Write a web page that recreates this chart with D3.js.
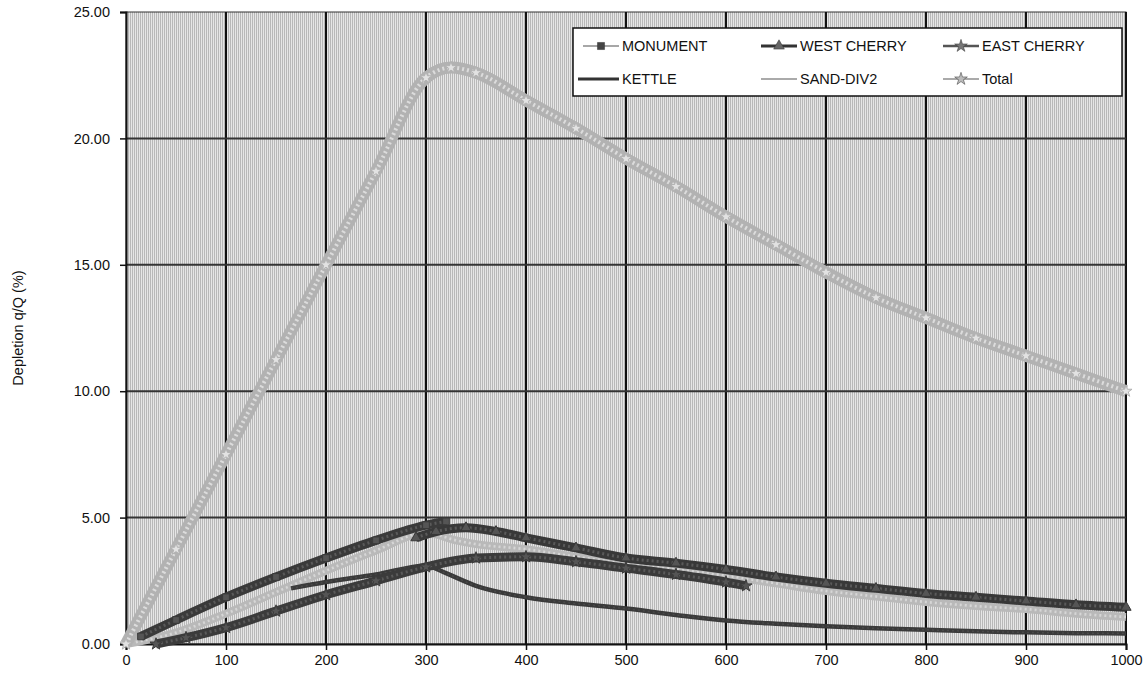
<!DOCTYPE html>
<html>
<head>
<meta charset="utf-8">
<script src="https://cdn.jsdelivr.net/npm/d3@7"></script>
<style>
  body { margin: 0; background: #fff; }
  svg { font-family: "Liberation Sans", Arial, sans-serif; }
</style>
</head>
<body>
<svg></svg>
<script>
// days / depletion values
const monumentDays = [15, 50, 100, 150, 200, 250, 300, 320];
const monumentVals = [0.3, 0.95, 1.85, 2.65, 3.4, 4.1, 4.7, 4.85];

const westDays = [290, 310, 340, 370, 400, 450, 500, 550, 600, 650, 700, 750, 800, 850, 900, 950, 1000];
const westVals = [4.2, 4.45, 4.6, 4.45, 4.2, 3.8, 3.4, 3.2, 2.95, 2.65, 2.4, 2.2, 2.0, 1.85, 1.7, 1.55, 1.45];

const eastDays = [30, 60, 100, 150, 200, 250, 300, 350, 400, 450, 500, 550, 600, 620];
const eastVals = [0, 0.25, 0.65, 1.3, 1.95, 2.5, 3.05, 3.4, 3.45, 3.25, 3.0, 2.75, 2.45, 2.3];

const kettleDays = [165, 200, 250, 300, 320, 350, 400, 450, 500, 550, 600, 650, 700, 750, 800, 850, 900, 950, 1000];
const kettleVals = [2.2, 2.45, 2.75, 3.1, 2.8, 2.3, 1.85, 1.6, 1.4, 1.15, 0.93, 0.8, 0.7, 0.62, 0.56, 0.5, 0.46, 0.43, 0.42];

const sandDays = [0, 50, 100, 150, 200, 250, 300, 330, 350, 400, 450, 500, 550, 600, 650, 700, 750, 800, 850, 900, 950, 1000];
const sandVals = [0, 0.45, 1.2, 2.05, 2.9, 3.7, 4.4, 4.1, 3.95, 3.75, 3.45, 3.2, 2.95, 2.7, 2.4, 2.1, 1.88, 1.66, 1.5, 1.38, 1.2, 1.07];

const totalDays = [0, 50, 100, 150, 200, 250, 300, 325, 350, 400, 450, 500, 550, 600, 650, 700, 750, 800, 850, 900, 950, 1000];
const totalVals = [0, 3.75, 7.5, 11.25, 15, 18.7, 22.4, 22.8, 22.6, 21.5, 20.4, 19.2, 18.1, 16.9, 15.8, 14.7, 13.7, 12.9, 12.1, 11.4, 10.7, 10.0];

const xTicks = [0, 100, 200, 300, 400, 500, 600, 700, 800, 900, 1000];
const yTicks = [0, 5, 10, 15, 20, 25];

const width = 1148, height = 679;
const margin = { left: 126, right: 22, top: 12, bottom: 35 };

const svg = d3.select("svg").attr("width", width).attr("height", height);

const x = d3.scaleLinear().domain([0, 1000]).range([margin.left, width - margin.right]);
const y = d3.scaleLinear().domain([0, 25]).range([height - margin.bottom, margin.top]);

// dithered grey background
const defs = svg.append("defs");
const pat = defs.append("pattern").attr("id", "hatch")
  .attr("width", 2).attr("height", 2).attr("patternUnits", "userSpaceOnUse");
pat.append("rect").attr("width", 2).attr("height", 2).attr("fill", "#e6e6e6");
pat.append("rect").attr("width", 1).attr("height", 2).attr("fill", "#b8b8b8");

svg.append("rect")
  .attr("x", x(0)).attr("y", y(25))
  .attr("width", x(1000) - x(0)).attr("height", y(0) - y(25))
  .attr("fill", "url(#hatch)")
  .attr("stroke", "#333").attr("stroke-width", 1);

// grid
svg.append("g").selectAll("line").data(xTicks.slice(1)).enter().append("line")
  .attr("x1", d => x(d)).attr("x2", d => x(d))
  .attr("y1", y(25)).attr("y2", y(0))
  .attr("stroke", "#111").attr("stroke-width", 2);
svg.append("g").selectAll("line").data(yTicks.slice(1, -1)).enter().append("line")
  .attr("x1", x(0)).attr("x2", x(1000))
  .attr("y1", d => y(d)).attr("y2", d => y(d))
  .attr("stroke", "#333").attr("stroke-width", 2);

// axes
const xAxis = svg.append("g")
  .attr("transform", `translate(0,${y(0)})`)
  .call(d3.axisBottom(x).tickValues(xTicks).tickSize(6).tickPadding(5).tickFormat(d3.format("d")));
const yAxis = svg.append("g")
  .attr("transform", `translate(${x(0)},0)`)
  .call(d3.axisLeft(y).tickValues(yTicks).tickSize(6).tickPadding(10).tickFormat(d3.format(".2f")));
[xAxis, yAxis].forEach(a => {
  a.select(".domain").attr("stroke", "#111").attr("stroke-width", 2);
  a.selectAll(".tick line").attr("stroke", "#111").attr("stroke-width", 1.5);
  a.selectAll("text").attr("font-size", 14.5).attr("fill", "#111")
    .attr("font-family", "'Liberation Sans', Arial, sans-serif");
});

svg.append("text")
  .attr("transform", `translate(18,${(y(0) + y(25)) / 2}) rotate(-90)`)
  .attr("text-anchor", "middle")
  .attr("dy", "0.35em")
  .attr("font-size", 14.5)
  .attr("fill", "#111")
  .text("Depletion q/Q (%)");

const series = [
  { name: "SAND-DIV2", days: sandDays, vals: sandVals, color: "#b9b9b9", width: 8, marker: null, tex: "#d6d6d6" },
  { name: "Total", days: totalDays, vals: totalVals, color: "#b2b2b2", width: 12, marker: d3.symbolStar, mfill: "#e2e2e2", tex: "#dcdcdc" },
  { name: "KETTLE", days: kettleDays, vals: kettleVals, color: "#3a3a3a", width: 4.5, marker: null, tex: "#4a4a4a" },
  { name: "EAST CHERRY", days: eastDays, vals: eastVals, color: "#3b3b3b", width: 9, marker: d3.symbolStar, mfill: "#555", tex: "#5a5a5a" },
  { name: "WEST CHERRY", days: westDays, vals: westVals, color: "#383838", width: 9, marker: d3.symbolTriangle, mfill: "#555", tex: "#5a5a5a" },
  { name: "MONUMENT", days: monumentDays, vals: monumentVals, color: "#3a3a3a", width: 9, marker: d3.symbolSquare, mfill: "#555", tex: "#5a5a5a" },
];

const line = d3.line().x(d => x(d[0])).y(d => y(d[1])).curve(d3.curveMonotoneX);

series.forEach(s => {
  const pts = s.days.map((d, i) => [d, s.vals[i]]);
  const g = svg.append("g");
  g.append("path").datum(pts)
    .attr("d", line)
    .attr("fill", "none")
    .attr("stroke", s.color)
    .attr("stroke-width", s.width)
    .attr("stroke-linejoin", "round");
  // speckled texture along the band
  g.append("path").datum(pts)
    .attr("d", line)
    .attr("fill", "none")
    .attr("stroke", s.tex)
    .attr("stroke-width", Math.max(1.5, s.width / 3))
    .attr("stroke-dasharray", "2 3");
  if (s.marker) {
    g.selectAll("path.m").data(pts).enter().append("path")
      .attr("class", "m")
      .attr("transform", d => `translate(${x(d[0])},${y(d[1])})`)
      .attr("d", d3.symbol().type(s.marker).size(45))
      .attr("fill", s.mfill)
      .attr("stroke", s.color)
      .attr("stroke-width", 1);
  }
});

// legend
const legendBox = svg.append("g").attr("transform", "translate(573,28)");
legendBox.append("rect")
  .attr("width", 549).attr("height", 68)
  .attr("fill", "#fff").attr("stroke", "#111").attr("stroke-width", 1.5);

const legendItems = [
  { name: "MONUMENT", col: 0, row: 0, color: "#8a8a8a", w: 1.5, marker: d3.symbolSquare, mfill: "#444" },
  { name: "WEST CHERRY", col: 1, row: 0, color: "#333", w: 3, marker: d3.symbolTriangle, mfill: "#666" },
  { name: "EAST CHERRY", col: 2, row: 0, color: "#555", w: 2.5, marker: d3.symbolStar, mfill: "#777" },
  { name: "KETTLE", col: 0, row: 1, color: "#333", w: 3, marker: null },
  { name: "SAND-DIV2", col: 1, row: 1, color: "#aaa", w: 2, marker: null },
  { name: "Total", col: 2, row: 1, color: "#aaa", w: 2, marker: d3.symbolStar, mfill: "#bbb" },
];
const colX = [10, 188, 370];
const rowY = [18, 51];

const li = legendBox.selectAll("g.li").data(legendItems).enter().append("g")
  .attr("class", "li")
  .attr("transform", d => `translate(${colX[d.col]},${rowY[d.row]})`);
li.append("line")
  .attr("x1", d => d.row === 1 && d.col === 0 ? -5 : 0).attr("x2", 36)
  .attr("stroke", d => d.color).attr("stroke-width", d => d.w);
li.filter(d => d.marker).append("path")
  .attr("transform", "translate(18,0)")
  .attr("d", d => d3.symbol().type(d.marker).size(50)())
  .attr("fill", d => d.mfill).attr("stroke", "#333").attr("stroke-width", 0.5);
li.append("text")
  .attr("x", 39).attr("dy", "0.35em")
  .attr("font-size", 14.5)
  .attr("fill", "#111")
  .text(d => d.name);
</script>
</body>
</html>
